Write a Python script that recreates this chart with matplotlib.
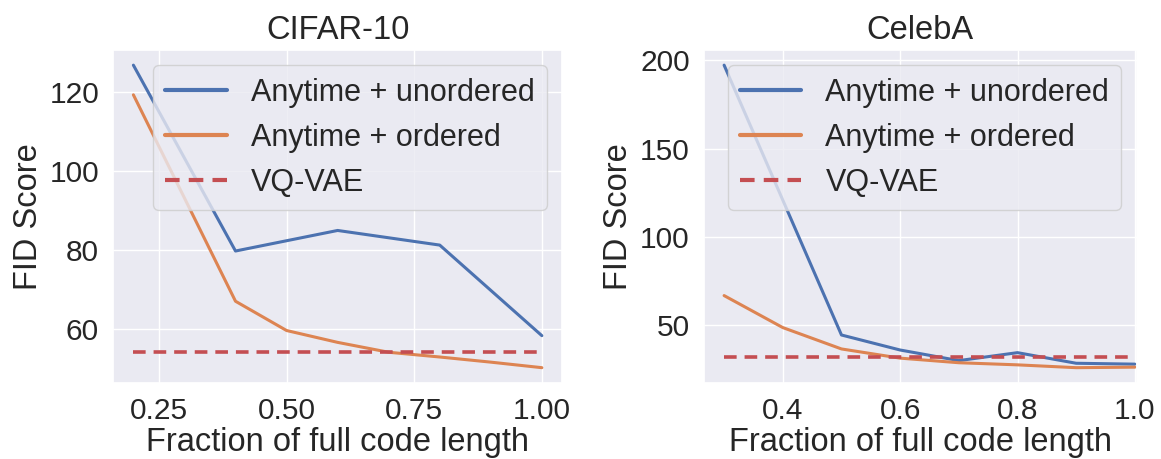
import matplotlib
matplotlib.use("Agg")
import matplotlib.pyplot as plt
import seaborn as sns

sns.set_theme(style="darkgrid")
plt.rcParams['font.family'] = ['Liberation Sans', 'DejaVu Sans']

# CIFAR-10
cifar_x_unordered = [0.2, 0.4, 0.6, 0.8, 1.0]
cifar_unordered = [126.7, 79.7, 84.9, 81.2, 58.3]
cifar_x_ordered = [0.2, 0.4, 0.5, 0.6, 0.7, 0.8, 0.9, 1.0]
cifar_ordered = [119.2, 67.0, 59.6, 56.6, 54.1, 52.9, 51.6, 50.2]
cifar_vqvae = 54.1

# CelebA
celeba_x_unordered = [0.3, 0.5, 0.6, 0.7, 0.8, 0.9, 1.0]
celeba_unordered = [197.2, 44.5, 36.0, 30.0, 34.5, 28.5, 28.0]
celeba_x_ordered = [0.3, 0.4, 0.5, 0.6, 0.7, 0.8, 0.9, 1.0]
celeba_ordered = [66.8, 48.7, 36.6, 31.4, 28.8, 27.6, 26.0, 26.3]
celeba_vqvae = 31.9

blue, orange, red = '#4C72B0', '#DD8452', '#C44E52'
tick_fs, label_fs, legend_fs = 21.5, 23.5, 22

fig = plt.figure(figsize=(11.61, 4.59), dpi=100)
ax1 = fig.add_axes([0.0973, 0.166, 0.387, 0.725])
ax2 = fig.add_axes([0.606, 0.166, 0.373, 0.725])


def draw(ax, xu, yu, xo, yo, vq, title):
    ax.plot(xu, yu, color=blue, lw=2.2, label='Anytime + unordered')
    ax.plot(xo, yo, color=orange, lw=2.2, label='Anytime + ordered')
    ax.plot([min(xu + xo), max(xu + xo)], [vq, vq], color=red, lw=2.6,
            ls=(0, (3.5, 2.2)), label='VQ-VAE')
    ax.set_title(title, fontsize=label_fs, pad=8)
    ax.set_xlabel('Fraction of full code length', fontsize=label_fs, labelpad=2)
    ax.set_ylabel('FID Score', fontsize=label_fs)
    ax.tick_params(labelsize=tick_fs, pad=4)
    leg = ax.legend(loc='upper right', fontsize=legend_fs, handlelength=2.0,
                    framealpha=0.8, borderaxespad=0.5)
    for line in leg.get_lines():
        line.set_linewidth(3.0)


draw(ax1, cifar_x_unordered, cifar_unordered, cifar_x_ordered, cifar_ordered,
     cifar_vqvae, 'CIFAR-10')
ax1.set_yticks([60, 80, 100, 120])
ax1.set_xticks([0.25, 0.5, 0.75, 1.0])
ax1.set_xticklabels(['0.25', '0.50', '0.75', '1.00'])

draw(ax2, celeba_x_unordered, celeba_unordered, celeba_x_ordered, celeba_ordered,
     celeba_vqvae, 'CelebA')
ax2.set_xlim(0.265, 1.003)
ax2.set_yticks([50, 100, 150, 200])
ax2.set_xticks([0.4, 0.6, 0.8, 1.0])

fig.savefig('out.png', dpi=100)
